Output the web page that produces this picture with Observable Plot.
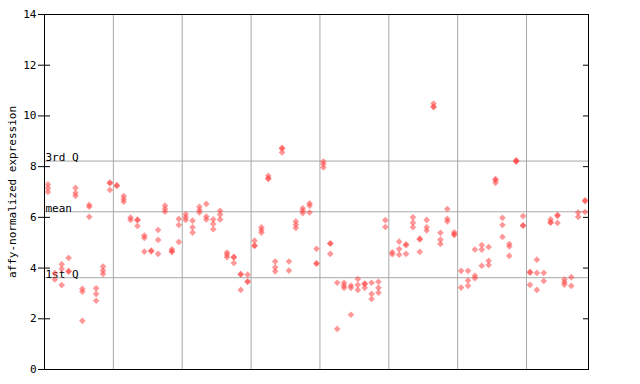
<!DOCTYPE html>
<html><head><meta charset="utf-8">
<script src="https://cdn.jsdelivr.net/npm/d3@7"></script>
<script src="https://cdn.jsdelivr.net/npm/@observablehq/plot@0.6"></script>
<style>body{margin:0;background:#fff}</style>
</head><body><div id="chart"></div>
<script>
// replicate values per sample (index 0..78), null = no replicate
const rep1 = [7.3,3.8,4.15,4.4,7.16,3.18,6.49,3.2,4.06,7.37,
  7.27,6.84,5.99,5.91,5.28,4.69,5.5,6.46,4.74,5.94,
  6.12,5.87,6.42,6.53,5.92,6.26,4.61,4.44,3.76,3.74,
  5.08,5.61,7.64,4.26,8.74,4.26,5.84,6.36,6.55,4.76,
  8.2,4.98,3.42,3.42,3.31,3.57,3.39,3.42,3.46,5.89,
  4.62,5.04,4.94,6.0,5.16,5.9,10.49,5.39,6.33,5.41,
  3.89,3.89,4.73,4.91,4.83,7.51,5.98,4.95,8.25,6.05,
  3.85,4.33,3.81,5.92,6.09,3.55,3.64,6.19,6.67];
const rep2 = [7.15,3.55,3.97,3.88,6.96,3.07,6.42,2.98,3.9,7.35,
  7.24,6.72,5.9,5.89,5.19,4.66,5.11,6.33,4.66,5.7,
  6.0,5.61,6.29,6.03,5.74,6.11,4.53,4.42,3.75,3.47,
  4.89,5.5,7.54,4.03,8.71,3.9,5.71,6.26,6.46,4.19,
  8.1,4.96,1.6,3.31,3.22,3.34,3.37,2.98,3.22,5.62,
  4.55,4.75,4.9,5.79,5.13,5.61,10.37,5.12,5.94,5.33,
  3.23,3.51,3.7,4.73,4.29,7.47,5.7,4.85,8.22,5.69,
  3.82,3.81,3.49,5.81,6.06,3.44,3.3,6.02,6.64];
const rep3 = [7.0,null,3.33,3.86,6.85,1.92,6.02,2.71,3.77,7.08,
  null,6.62,null,5.66,4.65,null,4.56,6.22,4.64,5.03,
  5.9,5.4,6.19,5.92,5.53,5.92,4.43,4.2,3.14,3.46,
  4.87,5.4,7.52,3.87,8.56,null,5.58,6.17,6.19,4.17,
  7.97,4.56,null,3.22,2.16,3.14,3.22,2.78,3.03,null,
  null,4.53,4.56,5.61,4.64,5.48,10.35,4.95,5.84,5.31,
  null,3.3,3.6,4.09,4.12,7.36,5.23,4.48,8.2,5.67,
  3.34,3.14,null,5.79,5.78,3.35,null,null,6.21];

const groupBounds = [9.5, 19.5, 29.5, 39.5, 49.5, 59.5, 69.5];
const refValues = [8.22, 6.22, 3.62];
const refLabels = ["3rd Q", "mean", "1st Q"];
const yTicks = [0, 2, 4, 6, 8, 10, 12, 14];
const yLabel = "affy-normalized expression";

const points = [];
[rep1, rep2, rep3].forEach(r => r.forEach((v, i) => { if (v != null) points.push({i, v}); }));
const refs = refValues.map((v, k) => ({v, label: refLabels[k]}));

const chart = Plot.plot({
  width: 640, height: 384,
  marginLeft: 44, marginRight: 52, marginTop: 14, marginBottom: 15,
  style: {fontFamily: "DejaVu Sans Mono", fontSize: "10px", background: "white", color: "black"},
  x: {domain: [-0.5, 78.5], axis: null},
  y: {domain: [0, 14]},
  marks: [
    Plot.ruleX(groupBounds, {stroke: "#a8a8a8"}),
    Plot.ruleY(refs, {y: "v", stroke: "#a8a8a8"}),
    Plot.text(refs, {y: "v", text: "label", frameAnchor: "left", textAnchor: "start", lineAnchor: "bottom", dx: 1, dy: 0, fontSize: 11, fill: "black"}),
    Plot.dot(points, {x: "i", y: "v", symbol: "diamond2", r: 3, fill: "#ff4646", fillOpacity: 0.55}),
    Plot.frame({stroke: "black"}),
    Plot.axisY({ticks: yTicks, tickSize: 6, tickPadding: 2, label: null, fontSize: 11}),
    Plot.axisY({ticks: yTicks, tickSize: -6, tickFormat: () => "", label: null}),
    Plot.axisY({anchor: "right", ticks: yTicks, tickSize: -6, tickFormat: () => "", label: null}),
    Plot.text([yLabel], {text: d => d, frameAnchor: "left", textAnchor: "middle", lineAnchor: "middle", dx: -32, rotate: -90, fontSize: 11, fill: "black"})
  ]
});
document.getElementById("chart").appendChild(chart);
</script>
</body></html>
